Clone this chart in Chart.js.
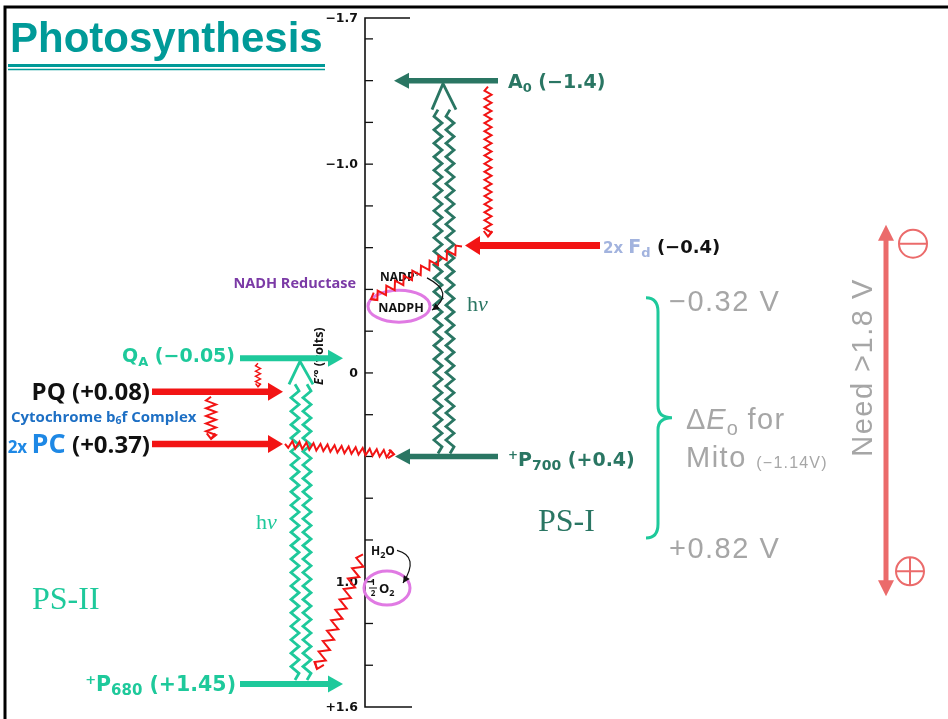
<!DOCTYPE html>
<html>
<head>
<meta charset="utf-8">
<title>Photosynthesis Z-scheme</title>
<script src="https://cdn.jsdelivr.net/npm/chart.js@4.4.1/dist/chart.umd.min.js"></script>
<style>
  html, body { margin: 0; padding: 0; background: #fff; overflow: hidden; }
  canvas { display: block; }
</style>
</head>
<body>
<canvas id="zChart" width="948" height="719"></canvas>
<script>
const SPECIES = ['A0', 'Fd', 'QA', 'PQ', 'PC', 'P700', 'P680'];
const REDOX_LABELS = ['(−1.4)', '(−0.4)', '(−0.05)', '(+0.08)', '(+0.37)', '(+0.4)', '(+1.45)'];
const LEVELS = [-1.40, -0.61, -0.07, 0.09, 0.34, 0.40, 1.49];
const TICK_VALUES = [-1.7, -1.6, -1.4, -1.2, -1.0, -0.8, -0.6, -0.4, -0.2, 0, 0.2, 0.4, 0.6, 0.8, 1.0, 1.2, 1.4, 1.6];
const TICK_LABELS = ['−1.7', '', '', '', '−1.0', '', '', '', '', '0', '', '', '', '', '1.0', '', '', '+1.6'];
const NADP_LEVELS = [-0.46, -0.32];   // NADP+, NADPH
const WATER_LEVELS = [0.85, 1.03];    // H2O, 1/2 O2
const MITO_RANGE = [-0.32, 0.82];
const BRACE_RANGE = [-0.36, 0.79];
const NEED_RANGE = [-0.71, 1.07];

// Colours
const DKGREEN = '#2a7663';
const TEAL = '#1ec99b';
const RED = '#f21414';
const GRAY = '#a6a6a6';
const SALMON = '#eb6b6b';
const MAGENTA = '#e07ae3';
const TITLE_C = '#009a98';

// Layout (x in pixels of the hidden x scale)
const AXIS_X = 365;
const ARROW_X = { A0: [498, 394], Fd: [600, 465], QA: [240, 343], PQ: [152, 283], PC: [152, 283], P700: [498, 395], P680: [240, 343] };
const ARROW_COLOR = { A0: DKGREEN, Fd: RED, QA: TEAL, PQ: RED, PC: RED, P700: DKGREEN, P680: TEAL };
const ARROW_W = { A0: 5.5, Fd: 7, QA: 6, PQ: 6.5, PC: 6.5, P700: 5.5, P680: 6 };
const HEAD_LEN = 15;

function lvlIndex(name) { return SPECIES.indexOf(name); }

// helpers
function rich(ctx, x, y, parts, align, baseSize) {
  let w = 0;
  parts.forEach(p => {
    ctx.font = (p.style || '') + ' ' + (p.weight || 'normal') + ' ' + p.size + 'px ' + p.family;
    ctx.letterSpacing = (p.ls || 0) + 'px';
    p.w = ctx.measureText(p.t).width;
    w += p.w;
  });
  let cx = align === 'right' ? x - w : (align === 'center' ? x - w / 2 : x);
  const base = y + 0.36 * (baseSize || parts[0].size);
  ctx.textAlign = 'left';
  ctx.textBaseline = 'alphabetic';
  parts.forEach(p => {
    ctx.font = (p.style || '') + ' ' + (p.weight || 'normal') + ' ' + p.size + 'px ' + p.family;
    ctx.letterSpacing = (p.ls || 0) + 'px';
    ctx.fillStyle = p.color;
    ctx.fillText(p.t, cx, base + (p.dy || 0));
    cx += p.w;
  });
  ctx.letterSpacing = '0px';
}

function zigzag(ctx, x0, y0, x1, y1, amp, wave, color, lw, head) {
  const dx = x1 - x0, dy = y1 - y0, len = Math.hypot(dx, dy);
  const ux = dx / len, uy = dy / len, nx = -uy, ny = ux;
  const n = Math.max(2, Math.round(len / (wave / 2)));
  const step = len / n;
  ctx.save();
  ctx.strokeStyle = color;
  ctx.lineWidth = lw;
  ctx.lineJoin = 'miter';
  ctx.beginPath();
  ctx.moveTo(x0, y0);
  for (let i = 1; i < n; i++) {
    const s = i % 2 ? amp : -amp;
    ctx.lineTo(x0 + ux * step * i + nx * s, y0 + uy * step * i + ny * s);
  }
  ctx.lineTo(x1, y1);
  ctx.stroke();
  if (head) {
    const a = Math.atan2(uy, ux);
    ctx.beginPath();
    ctx.moveTo(x1 - head * Math.cos(a - 0.65), y1 - head * Math.sin(a - 0.65));
    ctx.lineTo(x1, y1);
    ctx.lineTo(x1 - head * Math.cos(a + 0.65), y1 - head * Math.sin(a + 0.65));
    ctx.stroke();
  }
  ctx.restore();
}

function fillHead(ctx, tx, ty, angle, len, half, color) {
  ctx.save();
  ctx.translate(tx, ty);
  ctx.rotate(angle);
  ctx.fillStyle = color;
  ctx.beginPath();
  ctx.moveTo(0, 0);
  ctx.lineTo(-len, -half);
  ctx.lineTo(-len, half);
  ctx.closePath();
  ctx.fill();
  ctx.restore();
}

function photon(ctx, xs, yBottom, yTop, tipX, tipY, color) {
  xs.forEach(x => zigzag(ctx, x, yBottom, x, yTop, 4, 13.5, color, 2.8, 0));
  ctx.save();
  ctx.strokeStyle = color;
  ctx.lineWidth = 2.8;
  ctx.beginPath();
  ctx.moveTo(xs[0] - 6, yTop);
  ctx.lineTo(tipX, tipY);
  ctx.lineTo(xs[1] + 6, yTop);
  ctx.stroke();
  ctx.restore();
}

function curvedArrow(ctx, p0, c, p1) {
  ctx.save();
  ctx.strokeStyle = '#111';
  ctx.lineWidth = 1.2;
  ctx.beginPath();
  ctx.moveTo(p0[0], p0[1]);
  ctx.quadraticCurveTo(c[0], c[1], p1[0], p1[1]);
  ctx.stroke();
  fillHead(ctx, p1[0], p1[1], Math.atan2(p1[1] - c[1], p1[0] - c[0]), 7, 3.5, '#111');
  ctx.restore();
}

function ellipse(ctx, cx, cy, rx, ry) {
  ctx.save();
  ctx.strokeStyle = MAGENTA;
  ctx.lineWidth = 3;
  ctx.beginPath();
  ctx.ellipse(cx, cy, rx, ry, 0, 0, Math.PI * 2);
  ctx.stroke();
  ctx.restore();
}

function signCircle(ctx, cx, cy, r, plus) {
  ctx.save();
  ctx.strokeStyle = SALMON;
  ctx.lineWidth = 2;
  ctx.beginPath();
  ctx.arc(cx, cy, r, 0, Math.PI * 2);
  ctx.moveTo(cx - r, cy);
  ctx.lineTo(cx + r, cy);
  if (plus) {
    ctx.moveTo(cx, cy - r);
    ctx.lineTo(cx, cy + r);
  }
  ctx.stroke();
  ctx.restore();
}

const OS = "'Open Sans'";
const DV = "'DejaVu Sans'";
const LS = "'Liberation Sans'";
const SERIF = "'Liberation Serif'";

// Background layer: frame, title, axis, notes, photon arrows
const backPlugin = {
  id: 'zBack',
  beforeDatasetsDraw(chart) {
    const ctx = chart.ctx;
    const X = v => chart.scales.x.getPixelForValue(v);
    const Y = v => chart.scales.y.getPixelForValue(v);
    const L = name => Y(LEVELS[lvlIndex(name)]);
    ctx.save();

    // slide frame
    ctx.strokeStyle = '#000';
    ctx.lineWidth = 3;
    ctx.beginPath();
    ctx.moveTo(X(948), 7);
    ctx.lineTo(X(5), 7);
    ctx.lineTo(X(5), 719);
    ctx.stroke();

    // title
    ctx.font = "bold 42px " + LS;
    ctx.fillStyle = TITLE_C;
    ctx.textAlign = 'left';
    ctx.textBaseline = 'alphabetic';
    ctx.fillText('Photosynthesis', X(10), 52);
    ctx.strokeStyle = TITLE_C;
    ctx.lineWidth = 3;
    ctx.beginPath(); ctx.moveTo(X(8), 65.5); ctx.lineTo(X(325), 65.5); ctx.stroke();
    ctx.lineWidth = 1.5;
    ctx.beginPath(); ctx.moveTo(X(8), 69.5); ctx.lineTo(X(325), 69.5); ctx.stroke();

    // E'° axis
    const ax = X(AXIS_X);
    const yTop = Y(TICK_VALUES[0]), yBot = Y(TICK_VALUES[TICK_VALUES.length - 1]);
    ctx.strokeStyle = '#111';
    ctx.lineWidth = 1.6;
    ctx.beginPath();
    ctx.moveTo(X(410), yTop); ctx.lineTo(ax, yTop); ctx.lineTo(ax, yBot); ctx.lineTo(X(412), yBot);
    ctx.stroke();
    ctx.lineWidth = 1.3;
    ctx.font = "bold 12.5px " + DV;
    ctx.fillStyle = '#111';
    ctx.textAlign = 'right';
    ctx.textBaseline = 'middle';
    TICK_VALUES.forEach((v, i) => {
      const y = Y(v);
      if (i > 0 && i < TICK_VALUES.length - 1) {
        ctx.beginPath(); ctx.moveTo(ax, y); ctx.lineTo(ax + 8, y); ctx.stroke();
      }
      if (TICK_LABELS[i]) ctx.fillText(TICK_LABELS[i], ax - 7, y + 1);
    });
    ctx.save();
    ctx.translate(X(318), Y(-0.08));
    ctx.rotate(-Math.PI / 2);
    rich(ctx, 0, 0, [
      { t: 'E′°', size: 12.5, weight: 'bold', style: 'italic', family: OS, color: '#111' },
      { t: ' (volts)', size: 12.5, weight: 'bold', family: OS, color: '#111' }
    ], 'center');
    ctx.restore();

    // Mito bracket and notes
    const bTop = Y(BRACE_RANGE[0]), bBot = Y(BRACE_RANGE[1]), bMid = (bTop + bBot) / 2;
    const bx0 = X(646), bx1 = X(658), bx2 = X(672);
    ctx.strokeStyle = TEAL;
    ctx.lineWidth = 3;
    ctx.beginPath();
    ctx.moveTo(bx0, bTop);
    ctx.quadraticCurveTo(bx1, bTop, bx1, bTop + 14);
    ctx.lineTo(bx1, bMid - 12);
    ctx.quadraticCurveTo(bx1, bMid, bx2, bMid);
    ctx.quadraticCurveTo(bx1, bMid, bx1, bMid + 12);
    ctx.lineTo(bx1, bBot - 14);
    ctx.quadraticCurveTo(bx1, bBot, bx0, bBot);
    ctx.stroke();

    rich(ctx, X(669), Y(MITO_RANGE[0]) - 6, [{ t: '−0.32 V', size: 29, family: LS, color: GRAY, ls: 1.5 }], 'left');
    rich(ctx, X(669), Y(MITO_RANGE[1]) + 3, [{ t: '+0.82 V', size: 29, family: LS, color: GRAY, ls: 1.5 }], 'left');
    rich(ctx, X(686), bMid + 1, [
      { t: 'Δ', size: 29, family: LS, color: GRAY, ls: 1 },
      { t: 'E', size: 29, style: 'italic', family: LS, color: GRAY, ls: 1 },
      { t: 'o', size: 20, family: LS, color: GRAY, dy: 6 },
      { t: ' for', size: 29, family: LS, color: GRAY, ls: 1.5 }
    ], 'left');
    rich(ctx, X(686), bMid + 39, [
      { t: 'Mito ', size: 29, family: LS, color: GRAY, ls: 1.5 },
      { t: '(−1.14V)', size: 16, family: LS, color: GRAY, ls: 1.2, dy: 1 }
    ], 'left', 29);

    // Need >1.8 V double arrow
    const nx = X(886), nTop = Y(NEED_RANGE[0]), nBot = Y(NEED_RANGE[1]);
    ctx.strokeStyle = SALMON;
    ctx.lineWidth = 5;
    ctx.beginPath(); ctx.moveTo(nx, nTop + 14); ctx.lineTo(nx, nBot - 14); ctx.stroke();
    fillHead(ctx, nx, nTop, -Math.PI / 2, 16, 8, SALMON);
    fillHead(ctx, nx, nBot, Math.PI / 2, 16, 8, SALMON);
    signCircle(ctx, X(913), nTop + 19, 14, false);
    signCircle(ctx, X(910), nBot - 25, 14, true);
    ctx.save();
    ctx.translate(X(862), (nTop + nBot) / 2 - 43);
    ctx.rotate(-Math.PI / 2);
    rich(ctx, 0, 0, [{ t: 'Need >1.8 V', size: 29, family: LS, color: GRAY, ls: 1.5 }], 'center');
    ctx.restore();

    // section labels
    rich(ctx, X(538), 519, [{ t: 'PS-I', size: 32, family: SERIF, color: DKGREEN }], 'left');
    rich(ctx, X(32), 597, [{ t: 'PS-II', size: 32, family: SERIF, color: TEAL }], 'left');
    rich(ctx, X(467), Y(NADP_LEVELS[1]) - 3, [
      { t: 'h', size: 22, family: SERIF, color: DKGREEN },
      { t: 'ν', size: 22, style: 'italic', family: SERIF, color: DKGREEN }
    ], 'left');
    rich(ctx, X(256), 521, [
      { t: 'h', size: 22, family: SERIF, color: TEAL },
      { t: 'ν', size: 22, style: 'italic', family: SERIF, color: TEAL }
    ], 'left');
    rich(ctx, X(356), Y(NADP_LEVELS[0]) + 6, [{ t: 'NADH Reductase', size: 14.5, weight: 'bold', family: OS, color: '#7b3aa6' }], 'right');
    rich(ctx, X(11), (L('PQ') + L('PC')) / 2 - 1, [
      { t: 'Cytochrome b', size: 15, weight: 'bold', family: OS, color: '#1d6fc4' },
      { t: '6', size: 10.5, weight: 'bold', family: OS, color: '#1d6fc4', dy: 2 },
      { t: 'f Complex', size: 15, weight: 'bold', family: OS, color: '#1d6fc4' }
    ], 'left');

    // photon excitation (double zigzag) arrows
    photon(ctx, [X(295), X(307)], L('P680') - 4, L('QA') + 26, X(300), L('QA') + 3, TEAL);
    photon(ctx, [X(438), X(450)], L('P700') - 3, L('A0') + 29, X(443), L('A0') + 3, DKGREEN);

    ctx.restore();
  }
};

// Foreground layer: arrowheads, labels, electron transfer zigzags
const frontPlugin = {
  id: 'zFront',
  afterDatasetsDraw(chart) {
    const ctx = chart.ctx;
    const X = v => chart.scales.x.getPixelForValue(v);
    const Y = v => chart.scales.y.getPixelForValue(v);
    const L = name => Y(LEVELS[lvlIndex(name)]);
    ctx.save();

    SPECIES.forEach((s, i) => {
      const [tail, tip] = ARROW_X[s];
      const ang = tip < tail ? Math.PI : 0;
      fillHead(ctx, X(tip), Y(LEVELS[i]), ang, HEAD_LEN, ARROW_W[s] + 2.5, ARROW_COLOR[s]);
    });

    // level labels
    const R = REDOX_LABELS;
    rich(ctx, X(508), L('A0') + 1, [
      { t: 'A', size: 19, weight: 'bold', family: DV, color: DKGREEN },
      { t: '0', size: 13, weight: 'bold', family: DV, color: DKGREEN, dy: 4 },
      { t: ' ' + R[0], size: 19, weight: 'bold', family: DV, color: DKGREEN }
    ], 'left');
    rich(ctx, X(603), L('Fd') + 1, [
      { t: '2x ', size: 15, weight: 'bold', family: DV, color: '#a2b3de' },
      { t: 'F', size: 19, weight: 'bold', family: DV, color: '#a2b3de' },
      { t: 'd', size: 13, weight: 'bold', family: DV, color: '#a2b3de', dy: 4 },
      { t: ' ' + R[1], size: 18, weight: 'bold', family: DV, color: '#111' }
    ], 'left', 19);
    rich(ctx, X(235), L('QA') - 3, [
      { t: 'Q', size: 19, weight: 'bold', family: DV, color: TEAL },
      { t: 'A', size: 13, weight: 'bold', family: DV, color: TEAL, dy: 4 },
      { t: ' ' + R[2], size: 19, weight: 'bold', family: DV, color: TEAL }
    ], 'right');
    rich(ctx, X(150), L('PQ'), [
      { t: 'PQ ' + R[3], size: 24, weight: 'bold', family: OS, color: '#111' }
    ], 'right');
    rich(ctx, X(150), L('PC'), [
      { t: '2x ', size: 17, weight: 'bold', family: OS, color: '#1e88e5' },
      { t: 'PC', size: 27, weight: 'bold', family: OS, color: '#1e88e5' },
      { t: ' ' + R[4], size: 24, weight: 'bold', family: OS, color: '#111' }
    ], 'right', 24);
    rich(ctx, X(508), L('P700') + 3, [
      { t: '+', size: 12, weight: 'bold', family: DV, color: DKGREEN, dy: -7 },
      { t: 'P', size: 19, weight: 'bold', family: DV, color: DKGREEN },
      { t: '700', size: 14, weight: 'bold', family: DV, color: DKGREEN, dy: 4 },
      { t: ' ' + R[5], size: 19, weight: 'bold', family: DV, color: DKGREEN }
    ], 'left', 19);
    rich(ctx, X(236), L('P680'), [
      { t: '+', size: 13, weight: 'bold', family: DV, color: TEAL, dy: -7 },
      { t: 'P', size: 20.5, weight: 'bold', family: DV, color: TEAL },
      { t: '680', size: 15, weight: 'bold', family: DV, color: TEAL, dy: 4 },
      { t: ' ' + R[6], size: 20.5, weight: 'bold', family: DV, color: TEAL }
    ], 'right', 20.5);

    // NADP+ / NADPH
    const yNadp = Y(NADP_LEVELS[0]), yNadph = Y(NADP_LEVELS[1]);
    rich(ctx, X(380), yNadp, [
      { t: 'NADP', size: 12, weight: 'bold', family: OS, color: '#111' },
      { t: '+', size: 9, weight: 'bold', family: OS, color: '#111', dy: -4 }
    ], 'left', 12);
    rich(ctx, X(401), yNadph + 1, [{ t: 'NADPH', size: 12.5, weight: 'bold', family: OS, color: '#111' }], 'center');
    ellipse(ctx, X(399), yNadph, 31, 16);
    curvedArrow(ctx, [X(427), yNadp + 1], [X(456), yNadp + 16], [X(432), yNadph + 4]);

    // H2O / 1/2 O2
    const yH2o = Y(WATER_LEVELS[0]), yO2 = Y(WATER_LEVELS[1]);
    rich(ctx, X(371), yH2o, [
      { t: 'H', size: 12, weight: 'bold', family: OS, color: '#111' },
      { t: '2', size: 9, weight: 'bold', family: OS, color: '#111', dy: 3 },
      { t: 'O', size: 12, weight: 'bold', family: OS, color: '#111' }
    ], 'left', 12);
    ctx.fillStyle = '#111';
    ctx.font = "bold 8px " + OS;
    ctx.textAlign = 'center';
    ctx.textBaseline = 'middle';
    ctx.fillText('1', X(373), yO2 - 5);
    ctx.fillText('2', X(373), yO2 + 6);
    ctx.fillRect(X(369), yO2 - 0.5, 8, 1);
    rich(ctx, X(379), yO2, [
      { t: 'O', size: 13, weight: 'bold', family: OS, color: '#111' },
      { t: '2', size: 9, weight: 'bold', family: OS, color: '#111', dy: 3 }
    ], 'left', 13);
    ellipse(ctx, X(387), yO2, 23, 17);
    curvedArrow(ctx, [X(397), yH2o], [X(420), yH2o + 6], [X(403), yO2 - 5]);

    // electron transfer (red zigzags)
    zigzag(ctx, X(488), L('A0') + 6, X(488), L('Fd') - 9, 3.5, 8, RED, 2, 7);
    zigzag(ctx, X(462), L('Fd') + 1, X(371), yNadph - 7, 4, 10, RED, 2, 7);
    zigzag(ctx, X(258), L('QA') + 5, X(258), L('PQ') - 5, 2.5, 5, RED, 1.4, 4);
    zigzag(ctx, X(211), L('PQ') + 5, X(211), L('PC') - 5, 5, 8, RED, 2, 7);
    zigzag(ctx, X(285), L('PC'), X(394), L('P700') - 2, 3.5, 7, RED, 2, 7);
    zigzag(ctx, X(363), yH2o + 4, X(317), L('P680') - 15, 5, 11, RED, 2, 8);

    ctx.restore();
  }
};

// level arrow shafts as line datasets
const datasets = SPECIES.map((s, i) => {
  const [tail, tip] = ARROW_X[s];
  const d = Math.sign(tip - tail);
  return {
    label: s,
    data: [{ x: tail, y: LEVELS[i] }, { x: tip - d * (HEAD_LEN - 1), y: LEVELS[i] }],
    borderColor: ARROW_COLOR[s],
    borderWidth: ARROW_W[s],
    borderCapStyle: 'butt',
    pointRadius: 0,
    fill: false,
    tension: 0
  };
});

new Chart(document.getElementById('zChart'), {
  type: 'line',
  data: { datasets: datasets },
  options: {
    responsive: false,
    animation: false,
    layout: { padding: { top: 18, bottom: 12, left: 0, right: 0 } },
    plugins: { legend: { display: false }, tooltip: { enabled: false } },
    scales: {
      x: { type: 'linear', min: 0, max: 948, display: false },
      y: { type: 'linear', reverse: true, min: -1.7, max: 1.6, display: false }
    }
  },
  plugins: [backPlugin, frontPlugin]
});
</script>
</body>
</html>
